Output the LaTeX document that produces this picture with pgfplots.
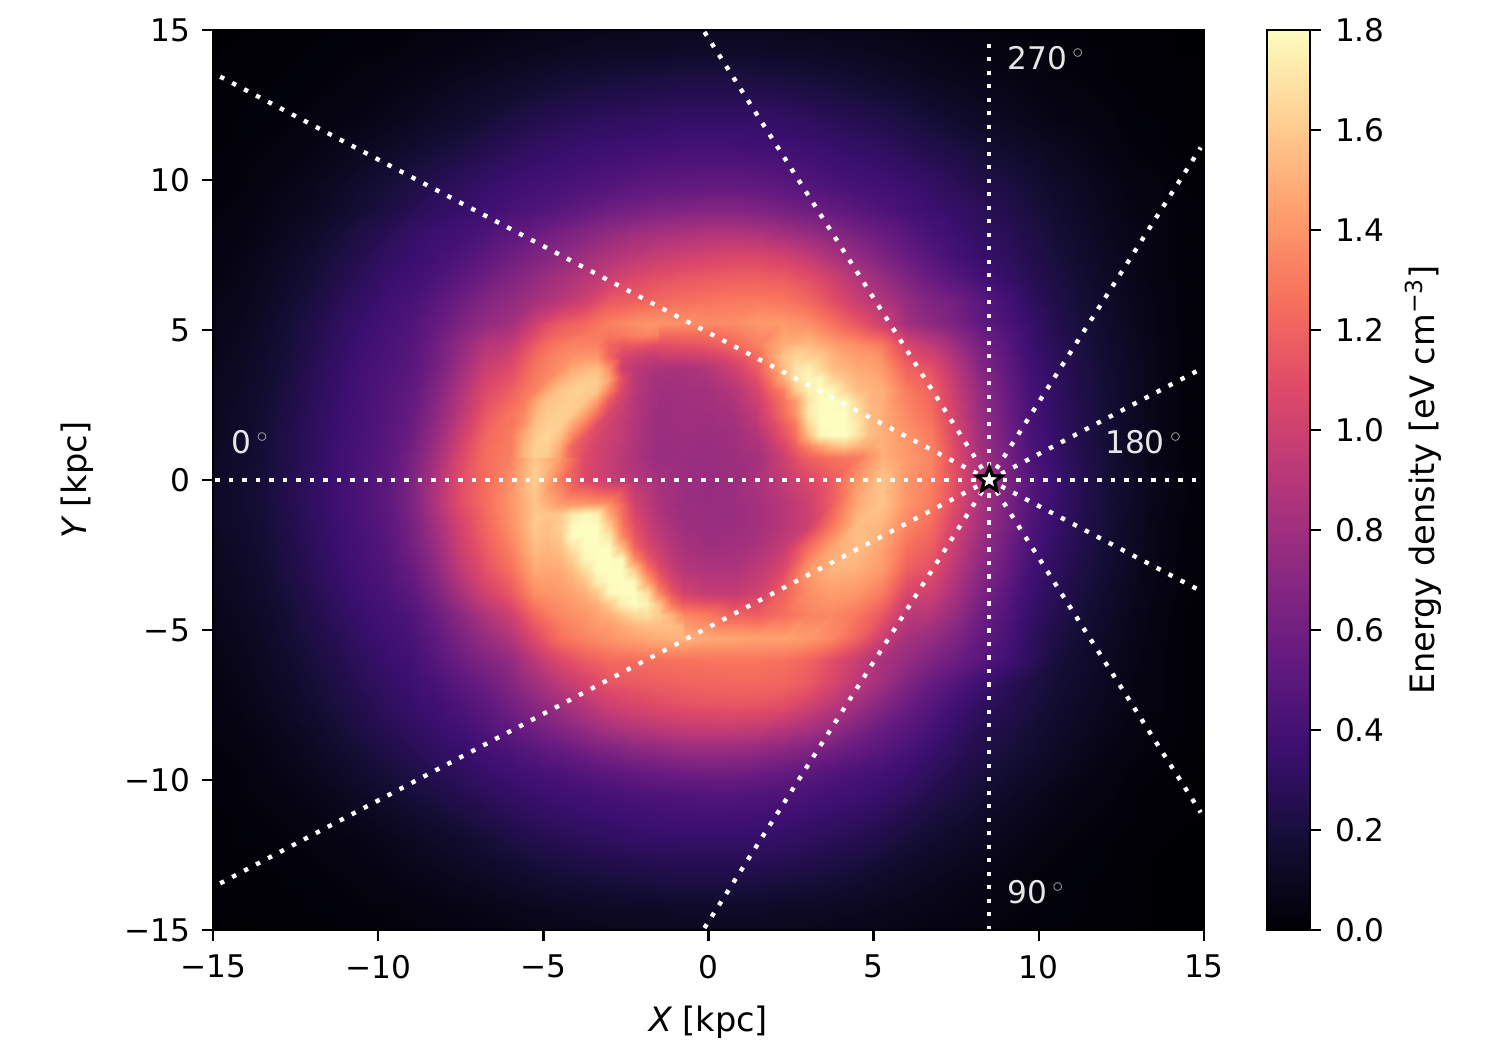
\documentclass[border=0pt]{standalone}
\usepackage{fontspec}
\setmainfont{DejaVu Sans}
\usepackage{pgfplots}
\pgfplotsset{compat=1.18}
\pgfdeclareplotmark{fivestar}{%
  \pgfpathmoveto{\pgfpointpolar{90}{\pgfplotmarksize}}%
  \pgfpathlineto{\pgfpointpolar{126}{0.42\pgfplotmarksize}}%
  \pgfpathlineto{\pgfpointpolar{162}{\pgfplotmarksize}}%
  \pgfpathlineto{\pgfpointpolar{198}{0.42\pgfplotmarksize}}%
  \pgfpathlineto{\pgfpointpolar{234}{\pgfplotmarksize}}%
  \pgfpathlineto{\pgfpointpolar{270}{0.42\pgfplotmarksize}}%
  \pgfpathlineto{\pgfpointpolar{306}{\pgfplotmarksize}}%
  \pgfpathlineto{\pgfpointpolar{342}{0.42\pgfplotmarksize}}%
  \pgfpathlineto{\pgfpointpolar{18}{\pgfplotmarksize}}%
  \pgfpathlineto{\pgfpointpolar{54}{0.42\pgfplotmarksize}}%
  \pgfpathclose\pgfusepathqfillstroke}
\pgfplotsset{
  colormap={magma}{rgb255=(0,0,4) rgb255=(20,14,54) rgb255=(59,15,112) rgb255=(100,26,128) rgb255=(140,41,129) rgb255=(183,55,121) rgb255=(222,73,104) rgb255=(247,112,92) rgb255=(254,159,109) rgb255=(254,207,146) rgb255=(252,253,191)},
  tick label style={font=\fontsize{15.6}{18}\selectfont},
  label style={font=\fontsize{16.8}{20}\selectfont},
}
\def\alldata{}
\newcount\cellcount
\newcommand\startgrid[3]{\gdef\xstart{#1}\gdef\xstep{#2}\gdef\ncols{#3}\gdef\alldata{}}
\newcommand\gridrow[2]{\global\cellcount=0
  \foreach \z [count=\i from 0] in {#2}{%
    \pgfmathsetmacro\xx{\xstart+\xstep*\i}%
    \xdef\alldata{\alldata (\xx,#1) [\z]}%
    \global\advance\cellcount by 1 }%
  \ifnum\cellcount=\ncols\relax\else\errmessage{ROW #1 HAS \the\cellcount}\fi}
% main grid, 0.75 kpc
\startgrid{-15}{0.75}{41}
\gridrow{15}{.00,.00,.01,.01,.01,.02,.02,.03,.03,.04,.05,.05,.06,.07,.08,.08,.09,.09,.10,.10,.10,.10,.10,.09,.09,.08,.08,.07,.06,.05,.05,.04,.03,.03,.02,.02,.01,.01,.01,.00,.00}
\gridrow{14.25}{.00,.01,.01,.01,.02,.02,.03,.03,.04,.05,.06,.07,.08,.09,.10,.11,.12,.12,.12,.13,.13,.13,.13,.12,.12,.11,.10,.09,.08,.07,.06,.05,.04,.03,.03,.02,.02,.01,.01,.00,.00}
\gridrow{13.5}{.01,.01,.01,.02,.02,.03,.04,.05,.06,.07,.09,.10,.12,.14,.16,.17,.18,.19,.20,.21,.21,.21,.20,.19,.18,.17,.15,.13,.11,.09,.08,.07,.06,.05,.03,.03,.02,.01,.01,.01,.00}
\gridrow{12.75}{.01,.01,.02,.02,.03,.04,.05,.06,.08,.10,.12,.14,.16,.19,.21,.23,.24,.25,.26,.27,.27,.27,.27,.26,.24,.22,.20,.18,.16,.13,.11,.09,.08,.06,.05,.04,.03,.02,.01,.01,.00}
\gridrow{12}{.01,.02,.02,.03,.04,.05,.06,.08,.10,.13,.15,.18,.22,.25,.27,.29,.30,.31,.32,.33,.33,.33,.33,.32,.30,.28,.26,.24,.21,.18,.15,.12,.10,.08,.06,.05,.04,.02,.02,.01,.00}
\gridrow{11.25}{.01,.02,.03,.04,.05,.07,.09,.11,.14,.17,.20,.24,.27,.30,.32,.34,.35,.36,.37,.38,.38,.38,.37,.36,.35,.33,.31,.29,.26,.23,.20,.17,.14,.11,.09,.07,.05,.03,.02,.01,.00}
\gridrow{10.5}{.02,.03,.04,.05,.07,.09,.12,.15,.19,.22,.26,.29,.32,.35,.37,.39,.41,.43,.45,.46,.46,.46,.45,.43,.41,.38,.36,.34,.31,.28,.25,.21,.18,.15,.11,.09,.06,.04,.03,.02,.01}
\gridrow{9.75}{.02,.03,.05,.07,.09,.12,.16,.19,.23,.27,.30,.34,.37,.40,.42,.45,.47,.50,.52,.53,.54,.54,.53,.50,.47,.44,.41,.39,.36,.33,.29,.25,.22,.18,.14,.11,.08,.05,.04,.02,.01}
\gridrow{9}{.03,.04,.06,.08,.10,.14,.18,.22,.27,.31,.34,.38,.42,.45,.49,.54,.59,.62,.65,.67,.68,.68,.66,.62,.59,.54,.49,.44,.40,.36,.33,.29,.25,.20,.16,.12,.09,.06,.04,.03,.01}
\gridrow{8.25}{.04,.05,.07,.10,.13,.18,.23,.27,.32,.36,.39,.44,.50,.56,.62,.68,.74,.79,.82,.85,.87,.87,.85,.80,.75,.69,.62,.55,.48,.41,.36,.31,.28,.23,.18,.14,.10,.07,.05,.03,.01}
\gridrow{7.5}{.05,.06,.09,.12,.16,.21,.26,.31,.35,.39,.44,.50,.58,.65,.72,.79,.86,.92,.97,1.00,1.03,1.05,1.05,1.01,.94,.84,.74,.64,.55,.47,.40,.34,.30,.25,.20,.15,.11,.08,.05,.03,.01}
\gridrow{6.75}{.05,.07,.10,.14,.18,.24,.29,.34,.38,.43,.50,.58,.66,.74,.82,.90,.98,1.06,1.11,1.14,1.16,1.18,1.18,1.16,1.10,1.00,.88,.76,.65,.55,.47,.39,.33,.27,.22,.17,.12,.08,.05,.03,.01}
\gridrow{6}{.07,.08,.11,.16,.21,.27,.32,.37,.42,.49,.58,.68,.74,.82,.90,1.00,1.15,1.18,1.22,1.25,1.27,1.29,1.30,1.28,1.22,1.10,.98,.87,.75,.66,.60,.49,.40,.30,.24,.18,.14,.09,.06,.03,.01}
\gridrow{5.25}{.07,.09,.13,.18,.24,.30,.35,.40,.45,.54,.65,.75,.80,1.00,1.15,1.22,1.32,1.38,1.40,1.38,1.36,1.37,1.42,1.42,1.38,1.26,1.14,1.00,.80,.72,.63,.52,.43,.34,.26,.20,.15,.10,.06,.03,.01}
\gridrow{4.5}{.08,.10,.14,.19,.25,.31,.37,.42,.47,.59,.74,.90,.95,1.17,1.30,1.33,1.20,1.15,1.10,1.12,1.15,1.22,1.32,1.50,1.55,1.45,1.38,1.30,1.05,.94,.78,.62,.49,.35,.28,.22,.16,.11,.07,.03,.01}
\gridrow{3.75}{.09,.11,.15,.20,.27,.33,.39,.44,.49,.62,.80,.99,1.08,1.28,1.38,1.50,1.30,.92,.85,.84,.88,1.00,1.18,1.45,1.70,1.58,1.48,1.42,1.20,1.12,.90,.68,.53,.38,.30,.23,.17,.12,.07,.03,.01}
\gridrow{3}{.10,.12,.16,.22,.28,.34,.40,.46,.52,.67,.87,1.08,1.18,1.33,1.52,1.62,1.28,.92,.80,.81,.82,.88,1.05,1.25,1.62,1.78,1.55,1.50,1.30,1.20,.96,.74,.56,.40,.31,.24,.18,.12,.07,.03,.01}
\gridrow{2.25}{.10,.13,.17,.23,.29,.35,.41,.47,.55,.72,.92,1.15,1.28,1.47,1.62,1.40,1.05,.90,.78,.80,.80,.83,.95,1.15,1.42,1.80,1.68,1.50,1.35,1.24,1.00,.76,.58,.41,.32,.25,.18,.12,.07,.03,.01}
\gridrow{1.5}{.11,.13,.18,.24,.30,.36,.42,.48,.58,.77,1.00,1.22,1.30,1.58,1.52,1.15,1.00,.88,.78,.79,.78,.80,.88,1.06,1.33,1.72,1.72,1.50,1.40,1.30,1.04,.79,.60,.42,.33,.25,.18,.12,.07,.03,.01}
\gridrow{.75}{.12,.14,.18,.24,.30,.37,.43,.49,.62,.82,1.07,1.25,1.32,1.60,1.42,1.07,.97,.86,.77,.78,.77,.79,.82,1.00,1.18,1.26,1.30,1.50,1.42,1.34,1.07,.82,.63,.44,.34,.26,.19,.12,.07,.03,.01}
\gridrow{0}{.12,.15,.19,.25,.31,.37,.44,.50,.65,.87,1.10,1.25,1.38,1.62,1.30,1.07,.97,.90,.82,.78,.77,.78,.85,.94,1.06,1.17,1.42,1.58,1.40,1.32,1.10,.86,.66,.47,.36,.27,.19,.13,.08,.04,.02}
\gridrow{-.75}{.12,.15,.19,.25,.31,.37,.44,.50,.65,.87,1.10,1.25,1.40,1.58,1.42,1.40,1.36,1.02,.85,.78,.77,.78,.82,.90,1.00,1.18,1.48,1.58,1.40,1.30,1.07,.84,.65,.46,.35,.27,.19,.13,.08,.04,.02}
\gridrow{-1.5}{.12,.14,.18,.24,.30,.36,.43,.49,.62,.82,1.04,1.22,1.38,1.60,1.62,1.80,1.60,1.10,.90,.80,.77,.78,.82,.90,1.00,1.28,1.55,1.52,1.34,1.24,1.02,.81,.63,.45,.34,.26,.19,.12,.07,.03,.01}
\gridrow{-2.25}{.11,.13,.17,.23,.29,.35,.41,.47,.60,.77,1.00,1.17,1.32,1.55,1.56,1.80,1.80,1.22,.98,.84,.80,.81,.86,.96,1.25,1.47,1.56,1.45,1.26,1.17,.96,.76,.59,.42,.32,.25,.18,.12,.07,.03,.01}
\gridrow{-3}{.10,.12,.16,.22,.28,.34,.40,.45,.55,.72,.94,1.12,1.25,1.48,1.48,1.68,1.80,1.62,1.10,.90,.86,.87,.93,1.07,1.42,1.52,1.50,1.42,1.18,1.10,.90,.71,.55,.39,.30,.23,.17,.11,.06,.03,.01}
\gridrow{-3.75}{.09,.11,.15,.20,.26,.32,.38,.43,.50,.65,.84,1.02,1.15,1.38,1.42,1.50,1.78,1.80,1.35,1.02,.96,.95,1.02,1.20,1.37,1.43,1.40,1.30,1.05,1.00,.83,.65,.50,.36,.28,.21,.15,.10,.06,.03,.01}
\gridrow{-4.5}{.08,.10,.13,.18,.24,.30,.35,.40,.45,.57,.72,.87,1.00,1.22,1.35,1.40,1.50,1.66,1.62,1.35,1.30,1.20,1.18,1.25,1.33,1.35,1.28,1.15,.92,.89,.75,.59,.46,.33,.26,.19,.14,.09,.05,.02,.01}
\gridrow{-5.25}{.07,.09,.12,.17,.22,.27,.33,.37,.42,.52,.64,.77,.87,1.08,1.26,1.34,1.40,1.45,1.50,1.52,1.48,1.47,1.45,1.45,1.42,1.35,1.20,1.00,.82,.76,.66,.53,.42,.30,.23,.17,.12,.08,.05,.02,.01}
\gridrow{-6}{.06,.08,.11,.15,.20,.25,.30,.35,.39,.48,.58,.67,.74,.92,1.07,1.17,1.23,1.25,1.26,1.27,1.28,1.28,1.28,1.26,1.20,1.10,.98,.84,.76,.66,.58,.49,.39,.30,.20,.15,.11,.07,.04,.02,.01}
\gridrow{-6.75}{.05,.07,.10,.13,.18,.23,.28,.32,.36,.42,.50,.58,.68,.80,.93,1.03,1.13,1.16,1.18,1.20,1.21,1.22,1.22,1.21,1.16,1.05,.92,.80,.66,.55,.46,.37,.29,.23,.18,.14,.10,.06,.04,.02,.01}
\gridrow{-7.5}{.05,.06,.09,.12,.16,.21,.25,.30,.34,.38,.44,.51,.60,.70,.80,.90,1.00,1.05,1.09,1.12,1.13,1.14,1.13,1.10,1.02,.92,.80,.68,.57,.48,.38,.31,.26,.21,.16,.12,.09,.06,.04,.02,.01}
\gridrow{-8.25}{.04,.05,.07,.10,.13,.18,.23,.27,.31,.35,.39,.45,.52,.60,.68,.76,.84,.89,.93,.96,.97,.97,.95,.90,.84,.76,.66,.56,.49,.41,.33,.27,.23,.18,.14,.11,.08,.05,.03,.02,.01}
\gridrow{-9}{.03,.04,.06,.08,.11,.15,.19,.23,.27,.31,.34,.39,.44,.49,.54,.60,.65,.70,.73,.76,.77,.76,.74,.70,.66,.60,.54,.48,.42,.35,.29,.24,.20,.16,.12,.09,.06,.04,.03,.01,.00}
\gridrow{-9.75}{.02,.03,.05,.07,.09,.12,.16,.19,.23,.27,.30,.34,.37,.40,.43,.47,.50,.53,.56,.58,.59,.59,.57,.54,.50,.46,.42,.39,.35,.30,.25,.20,.16,.13,.10,.07,.05,.03,.02,.01,.00}
\gridrow{-10.5}{.02,.03,.04,.05,.07,.09,.12,.15,.19,.22,.26,.29,.32,.35,.37,.39,.41,.43,.44,.45,.46,.46,.45,.44,.42,.39,.37,.34,.30,.25,.21,.17,.13,.10,.07,.05,.04,.02,.01,.01,.00}
\gridrow{-11.25}{.01,.02,.03,.04,.05,.07,.09,.11,.14,.17,.20,.24,.27,.30,.32,.34,.35,.37,.38,.39,.39,.39,.38,.37,.35,.33,.31,.28,.24,.20,.17,.13,.10,.08,.06,.04,.03,.02,.01,.01,.00}
\gridrow{-12}{.01,.02,.02,.03,.04,.05,.06,.08,.10,.13,.15,.18,.22,.25,.27,.29,.30,.32,.33,.33,.33,.33,.33,.32,.30,.28,.26,.23,.19,.16,.13,.10,.08,.06,.04,.03,.02,.01,.01,.00,.00}
\gridrow{-12.75}{.01,.01,.02,.02,.03,.04,.05,.06,.08,.10,.12,.14,.16,.19,.21,.23,.24,.25,.26,.27,.27,.27,.27,.26,.24,.22,.20,.17,.14,.12,.10,.08,.06,.04,.03,.02,.02,.01,.00,.00,.00}
\gridrow{-13.5}{.01,.01,.01,.02,.02,.03,.04,.05,.06,.07,.09,.10,.12,.14,.16,.17,.18,.19,.20,.21,.21,.21,.20,.19,.18,.17,.15,.13,.11,.09,.07,.06,.04,.03,.02,.02,.01,.01,.00,.00,.00}
\gridrow{-14.25}{.00,.01,.01,.01,.02,.02,.03,.03,.04,.05,.06,.07,.08,.09,.10,.11,.12,.12,.12,.13,.13,.13,.13,.12,.12,.11,.10,.09,.08,.07,.06,.05,.04,.03,.02,.02,.01,.01,.00,.00,.00}
\gridrow{-15}{.00,.00,.01,.01,.01,.02,.02,.03,.03,.04,.05,.05,.06,.07,.08,.08,.09,.09,.10,.10,.10,.10,.10,.09,.09,.08,.08,.07,.06,.05,.05,.04,.03,.02,.02,.01,.01,.01,.00,.00,.00}
\global\let\datamain\alldata
% lower left arm, 0.375 kpc
\startgrid{-5.25}{0.375}{13}
\gridrow{-.75}{1.58,1.50,1.42,1.40,1.40,1.40,1.36,1.22,1.02,.92,.85,.80,.78}
\gridrow{-1.125}{1.60,1.58,1.60,1.72,1.78,1.75,1.48,1.25,1.05,.95,.87,.82,.78}
\gridrow{-1.5}{1.60,1.55,1.62,1.78,1.80,1.80,1.60,1.28,1.10,.98,.90,.84,.80}
\gridrow{-1.875}{1.58,1.55,1.60,1.80,1.80,1.80,1.72,1.36,1.15,1.02,.93,.87,.82}
\gridrow{-2.25}{1.55,1.52,1.56,1.70,1.80,1.80,1.80,1.55,1.22,1.07,.98,.90,.84}
\gridrow{-2.625}{1.52,1.50,1.52,1.62,1.78,1.80,1.80,1.78,1.38,1.15,1.03,.93,.87}
\gridrow{-3}{1.48,1.47,1.48,1.55,1.68,1.80,1.80,1.80,1.62,1.28,1.10,.98,.90}
\gridrow{-3.375}{1.42,1.44,1.45,1.50,1.58,1.75,1.80,1.80,1.78,1.45,1.20,1.05,.95}
\gridrow{-3.75}{1.38,1.40,1.42,1.45,1.50,1.60,1.78,1.80,1.80,1.68,1.35,1.15,1.02}
\gridrow{-4.125}{1.30,1.35,1.38,1.42,1.45,1.50,1.60,1.75,1.80,1.75,1.58,1.30,1.15}
\gridrow{-4.5}{1.22,1.30,1.35,1.38,1.40,1.45,1.50,1.58,1.66,1.68,1.62,1.52,1.35}
\gridrow{-4.875}{1.15,1.22,1.30,1.34,1.38,1.42,1.42,1.48,1.52,1.55,1.56,1.56,1.52}
\gridrow{-5.25}{1.08,1.17,1.26,1.30,1.34,1.36,1.40,1.42,1.45,1.47,1.50,1.52,1.52}
\global\let\datac\alldata
% upper right arm, 0.375 kpc
\startgrid{1.5}{0.375}{11}
\gridrow{4.5}{1.32,1.42,1.50,1.55,1.55,1.50,1.45,1.40,1.38,1.35,1.30}
\gridrow{4.125}{1.25,1.42,1.58,1.65,1.62,1.60,1.52,1.47,1.43,1.42,1.38}
\gridrow{3.75}{1.18,1.35,1.55,1.70,1.75,1.65,1.55,1.52,1.48,1.46,1.42}
\gridrow{3.375}{1.12,1.28,1.50,1.70,1.78,1.78,1.65,1.58,1.52,1.50,1.47}
\gridrow{3}{1.05,1.20,1.32,1.60,1.75,1.80,1.78,1.65,1.55,1.52,1.50}
\gridrow{2.625}{1.00,1.13,1.27,1.42,1.70,1.80,1.80,1.78,1.65,1.52,1.50}
\gridrow{2.25}{.98,1.10,1.25,1.40,1.72,1.80,1.80,1.80,1.68,1.54,1.50}
\gridrow{1.875}{.95,1.05,1.17,1.30,1.65,1.80,1.80,1.80,1.72,1.55,1.50}
\gridrow{1.5}{.88,1.00,1.12,1.26,1.55,1.78,1.80,1.80,1.70,1.55,1.50}
\gridrow{1.125}{.84,.95,1.05,1.18,1.33,1.45,1.55,1.58,1.52,1.48,1.52}
\gridrow{.75}{.82,.90,1.00,1.10,1.18,1.22,1.26,1.28,1.30,1.38,1.50}
\global\let\dataa\alldata
% upper left arm, 0.375 kpc
\startgrid{-6}{0.375}{13}
\gridrow{5.25}{.80,.90,1.00,1.10,1.15,1.20,1.22,1.27,1.32,1.35,1.38,1.40,1.40}
\gridrow{4.875}{.88,.98,1.08,1.17,1.22,1.25,1.28,1.30,1.28,1.30,1.33,1.35,1.33}
\gridrow{4.5}{.95,1.07,1.17,1.25,1.30,1.33,1.33,1.32,1.20,1.15,1.15,1.12,1.10}
\gridrow{4.125}{1.02,1.13,1.23,1.30,1.35,1.38,1.40,1.40,1.20,1.05,1.00,.97,.95}
\gridrow{3.75}{1.08,1.18,1.28,1.33,1.38,1.48,1.52,1.55,1.38,1.00,.92,.88,.85}
\gridrow{3.375}{1.12,1.22,1.30,1.36,1.48,1.56,1.60,1.60,1.45,1.10,.92,.85,.82}
\gridrow{3}{1.18,1.27,1.33,1.48,1.58,1.62,1.62,1.58,1.32,1.05,.92,.85,.80}
\gridrow{2.625}{1.22,1.30,1.45,1.58,1.60,1.62,1.58,1.42,1.15,1.00,.90,.83,.80}
\gridrow{2.25}{1.28,1.35,1.52,1.60,1.62,1.60,1.45,1.25,1.05,.97,.90,.83,.78}
\gridrow{1.875}{1.27,1.38,1.56,1.62,1.62,1.48,1.30,1.10,1.02,.95,.88,.82,.78}
\gridrow{1.5}{1.30,1.48,1.60,1.65,1.56,1.35,1.15,1.05,1.00,.95,.88,.82,.78}
\gridrow{1.125}{1.30,1.50,1.62,1.62,1.48,1.20,1.10,1.03,.98,.93,.87,.82,.78}
\gridrow{.75}{1.32,1.52,1.62,1.60,1.42,1.20,1.07,1.02,.97,.92,.86,.80,.77}
\global\let\datab\alldata
\begin{document}
\begin{tikzpicture}
\path[use as bounding box] (-106.5pt,-57pt) rectangle (640pt,465pt);
\begin{axis}[
  name=main, at={(0pt,0pt)}, anchor=south west,
  scale only axis, width=495.5pt, height=450pt,
  xmin=-15, xmax=15, ymin=-15, ymax=15,
  axis line style={line width=1.2pt,black},
  tick style={line width=1.2pt,black},
  major tick length=5.5pt,
  tick align=outside, xtick pos=bottom, ytick pos=left,
  xtick={-15,-10,-5,0,5,10,15}, ytick={-15,-10,-5,0,5,10,15},
  xticklabels={−15,−10,−5,0,5,10,15}, yticklabels={−15,−10,−5,0,5,10,15},
  xticklabel style={yshift=-3.5pt}, yticklabel style={xshift=-2.5pt},
  xlabel={{\itshape X} [kpc]}, ylabel={{\itshape Y} [kpc]},
  xlabel style={at={(axis description cs:0.5,-0.103)},anchor=center},
  ylabel style={at={(axis description cs:-0.137,0.5)},anchor=center},
  colormap name=magma, point meta min=0, point meta max=1.8,
  axis on top,
]
\def\doplot#1#2{\addplot[surf,shader=interp,mesh/cols=#1,point meta=explicit] coordinates {#2};}
\expandafter\doplot\expandafter{\expandafter4\expandafter1\expandafter}\expandafter{\datamain}
\expandafter\doplot\expandafter{\expandafter1\expandafter3\expandafter}\expandafter{\datac}
\expandafter\doplot\expandafter{\expandafter1\expandafter1\expandafter}\expandafter{\dataa}
\expandafter\doplot\expandafter{\expandafter1\expandafter3\expandafter}\expandafter{\datab}
\pgfplotsset{dotline/.style={white,line width=2.2pt,dash pattern=on 2.2pt off 4.55pt,forget plot}}
\addplot[dotline] coordinates {(8.5,0) (-15,0)};
\addplot[dotline] coordinates {(8.5,0) (14.85,0)};
\addplot[dotline] coordinates {(8.5,0) (8.5,14.65)};
\addplot[dotline] coordinates {(8.5,0) (8.5,-15)};
\addplot[dotline] coordinates {(8.5,0) (-15,13.57)};
\addplot[dotline] coordinates {(8.5,0) (-15,-13.57)};
\addplot[dotline] coordinates {(8.5,0) (-0.15,14.98)};
\addplot[dotline] coordinates {(8.5,0) (-0.15,-14.98)};
\addplot[dotline] coordinates {(8.5,0) (14.9,11.08)};
\addplot[dotline] coordinates {(8.5,0) (14.9,-11.08)};
\addplot[dotline] coordinates {(8.5,0) (14.8,3.64)};
\addplot[dotline] coordinates {(8.5,0) (14.8,-3.64)};
\addplot[only marks,mark=fivestar,mark size=6.5pt,mark options={fill=white,draw=black,line width=1.6pt,solid}] coordinates {(8.5,0)};
\tikzset{deglab/.style={anchor=west,text=white,text opacity=.9,inner sep=0pt,font=\fontsize{15.6}{18}\selectfont}}
\node[deglab] at (axis cs:9.04,14.07) {270\,\textcolor{lightgray}{$^{\circ}$}};
\node[deglab] at (axis cs:12.0,1.27) {180\,\textcolor{lightgray}{$^{\circ}$}};
\node[deglab] at (axis cs:9.04,-13.73) {90\,\textcolor{lightgray}{$^{\circ}$}};
\node[deglab] at (axis cs:-14.45,1.27) {0\,\textcolor{lightgray}{$^{\circ}$}};
\end{axis}
\begin{axis}[
  at={(527pt,0pt)}, anchor=south west,
  scale only axis, width=21.5pt, height=450pt,
  xmin=0, xmax=1, ymin=0, ymax=1.8,
  axis line style={line width=1.2pt,black},
  tick style={line width=1.2pt,black},
  major tick length=5.5pt,
  tick align=outside, xtick=\empty, ytick pos=right, yticklabel pos=right,
  ytick={0,0.2,0.4,0.6,0.8,1.0,1.2,1.4,1.6,1.8},
  yticklabels={0.0,0.2,0.4,0.6,0.8,1.0,1.2,1.4,1.6,1.8},
  yticklabel style={xshift=3.5pt},
  ylabel={Energy density [eV cm\textsuperscript{−3}]},
  ylabel style={at={(axis description cs:3.63,0.5)},anchor=center},
  colormap name=magma, point meta min=0, point meta max=1.8,
  axis on top,
]
\addplot[surf,shader=interp,mesh/cols=2,point meta=explicit] coordinates {(0,0) [0] (1,0) [0] (0,1.8) [1.8] (1,1.8) [1.8]};
\end{axis}
\end{tikzpicture}
\end{document}
